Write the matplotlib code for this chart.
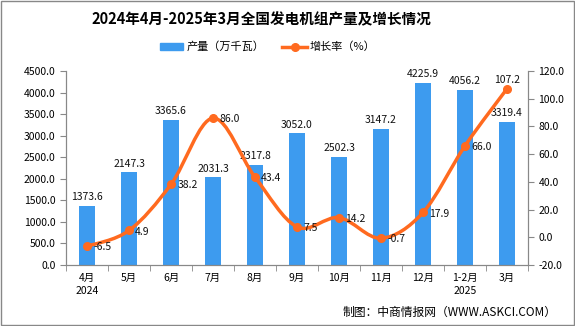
import numpy as np
import matplotlib
matplotlib.use('Agg')
import matplotlib.pyplot as plt
from matplotlib.path import Path
from matplotlib.patches import PathPatch, Rectangle

plt.rcParams['font.family'] = ['Noto Sans CJK SC', 'DejaVu Sans']

months = ['4月\n2024', '5月', '6月', '7月', '8月', '9月', '10月', '11月', '12月', '1-2月\n2025', '3月']
output = [1373.6, 2147.3, 3365.6, 2031.3, 2317.8, 3052.0, 2502.3, 3147.2, 4225.9, 4056.2, 3319.4]
growth = [-6.5, 4.9, 38.2, 86.0, 43.4, 7.5, 14.2, -0.7, 17.9, 66.0, 107.2]

bar_color = '#3D9BEF'
line_color = '#FF6A1F'

fig = plt.figure(figsize=(5.75, 3.26), dpi=100)
ax = fig.add_axes([66 / 575, 1 - 265 / 326, (528 - 66) / 575, (265 - 71) / 326])
ax2 = ax.twinx()

x = np.arange(len(months))
ax.bar(x, output, width=0.38, color=bar_color, zorder=2)
for xi, v in zip(x, output):
    ax.text(xi, v + 90, f'{v:.1f}', ha='center', va='bottom', fontsize=7.5, color='#111111')

# smooth line through the points (Catmull-Rom as cubic Bezier)
pts = np.column_stack([x, growth]).astype(float)
verts = [tuple(pts[0])]
codes = [Path.MOVETO]
for i in range(len(pts) - 1):
    p0 = pts[i - 1] if i > 0 else pts[i]
    p1 = pts[i]
    p2 = pts[i + 1]
    p3 = pts[i + 2] if i + 2 < len(pts) else pts[i + 1]
    c1 = p1 + (p2 - p0) / 6
    c2 = p2 - (p3 - p1) / 6
    verts += [tuple(c1), tuple(c2), tuple(p2)]
    codes += [Path.CURVE4] * 3
ax2.add_patch(PathPatch(Path(verts, codes), fill=False, edgecolor=line_color, lw=2.5, zorder=3))
ax2.plot(x, growth, 'o', color=line_color, ms=5.5, zorder=4)
for xi, g in zip(x, growth):
    if xi == len(x) - 1:
        ax2.text(xi, g + 3, f'{g:.1f}', ha='center', va='bottom', fontsize=7.5, color='#111111', zorder=5)
    else:
        ax2.text(xi + 0.15, g - 0.8, f'{g:.1f}', ha='left', va='center', fontsize=7.5, color='#111111', zorder=5)

ax.set_xlim(-0.5, len(x) - 0.5)
ax.set_ylim(0, 4500)
ax.set_yticks(np.arange(0, 4501, 500))
ax.set_yticklabels([f'{v:.1f}' for v in np.arange(0, 4501, 500)])
ax2.set_ylim(-20, 120)
ax2.set_yticks(np.arange(-20, 121, 20))
ax2.set_yticklabels([f'{v:.1f}' for v in np.arange(-20, 121, 20)])

ax.set_xticks(x)
ax.set_xticklabels(months, fontsize=7.5, linespacing=1.3)
ax.set_xticks(np.arange(-0.5, len(x), 1), minor=True)
ax.tick_params(axis='x', which='major', length=0, pad=6)
ax.tick_params(axis='x', which='minor', length=4, color='#888888')
ax.tick_params(axis='y', labelsize=7.5, length=4, color='#888888')
ax2.tick_params(axis='y', labelsize=7.5, length=4, color='#888888')

for a in (ax, ax2):
    a.spines['top'].set_visible(False)
    for s in ('left', 'right', 'bottom'):
        a.spines[s].set_color('#888888')

fig.text(0.455, 0.94, '2024年4月-2025年3月全国发电机组产量及增长情况', ha='center', va='center',
         fontsize=10.5, fontweight='bold')

# legend
fig.patches.append(Rectangle((160 / 575, 1 - 50 / 326), 23 / 575, 7 / 326, transform=fig.transFigure,
                             color=bar_color))
fig.text(187 / 575, 1 - 47 / 326, '产量（万千瓦）', fontsize=8, va='center')
fig.lines.append(plt.Line2D([282 / 575, 307 / 575], [1 - 47 / 326] * 2, transform=fig.transFigure,
                            color=line_color, lw=2.5))
fig.lines.append(plt.Line2D([294.5 / 575], [1 - 47 / 326], transform=fig.transFigure,
                            color=line_color, marker='o', ms=5.5))
fig.text(310 / 575, 1 - 47 / 326, '增长率（%）', fontsize=8, va='center')

fig.text(557 / 575, 1 - 312 / 326, '制图：中商情报网（WWW.ASKCI.COM）', fontsize=8.5, ha='right', va='center')

fig.patches.append(Rectangle((0.001, 0.002), 0.997, 0.996, transform=fig.transFigure,
                             fill=False, edgecolor='#888888', lw=1))

fig.savefig('out.png', dpi=100)
